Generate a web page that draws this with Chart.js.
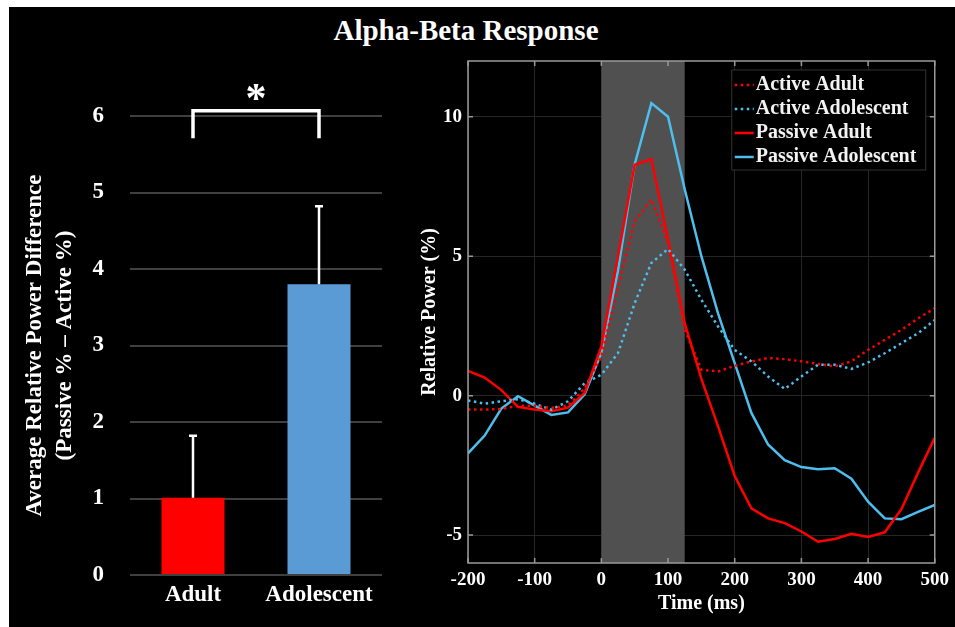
<!DOCTYPE html>
<html>
<head>
<meta charset="UTF-8">
<title>Alpha-Beta Response</title>
<script src="https://cdn.jsdelivr.net/npm/chart.js"></script>
<style>
  body { margin: 0; background: #fff; width: 955px; height: 627px; overflow: hidden; position: relative; }
  #panel { position: absolute; left: 9px; top: 7px; width: 946px; height: 620px; background: #000; }
  #title { position: absolute; left: 0; top: 14px; width: 932px; text-align: center; color: #fff;
           font: bold 29px "Liberation Serif", serif; line-height: 32px; }
  #barCanvas { position: absolute; left: 0; top: 0; }
  #lineCanvas { position: absolute; left: 410px; top: 0; }
</style>
</head>
<body>
<div id="panel"></div>
<div id="title">Alpha-Beta Response</div>
<canvas id="barCanvas" width="410" height="627"></canvas>
<canvas id="lineCanvas" width="545" height="627"></canvas>

<script>
// left panel: group means with one-sided error bars
var groups = ['Adult', 'Adolescent'];
var groupMeans = [1.01, 3.80];
var groupErrors = [0.81, 1.02];
var groupColors = ['#ff0000', '#5b9bd5'];
var barTicks = [0, 1, 2, 3, 4, 5, 6];

// right panel: time course, 25 ms steps
var timeMs = [-200, -175, -150, -125, -100, -75, -50, -25, 0, 25, 50, 75, 100, 125, 150,
              175, 200, 225, 250, 275, 300, 325, 350, 375, 400, 425, 450, 475, 500];
var activeAdult = [-0.5, -0.5, -0.48, -0.36, -0.36, -0.44, -0.36, 0.27, 1.41, 3.9, 6.25, 7.03, 5.47, 2.37, 0.93,
                   0.87, 1.07, 1.23, 1.35, 1.31, 1.23, 1.14, 1.05, 1.23, 1.64, 2.0, 2.36, 2.77, 3.13];
var activeAdolescent = [-0.17, -0.29, -0.2, -0.13, -0.29, -0.5, -0.2, 0.45, 0.75, 1.53, 3.32, 4.76, 5.26, 4.52, 3.44,
                        2.48, 1.64, 1.23, 0.69, 0.24, 0.69, 1.11, 1.11, 0.96, 1.19, 1.52, 1.88, 2.24, 2.71];
var passiveAdult = [0.89, 0.65, 0.2, -0.4, -0.5, -0.56, -0.43, 0.1, 1.77, 5.0, 8.28, 8.48, 5.6, 2.6, 0.6,
                    -1.1, -2.88, -4.04, -4.4, -4.57, -4.87, -5.24, -5.14, -4.95, -5.07, -4.9, -4.07, -2.76, -1.51];
var passiveAdolescent = [-2.07, -1.43, -0.46, -0.02, -0.36, -0.69, -0.6, 0.05, 1.53, 4.5, 8.3, 10.49, 10.0, 7.4, 5.0,
                         2.95, 1.17, -0.62, -1.75, -2.31, -2.56, -2.64, -2.6, -2.98, -3.8, -4.4, -4.43, -4.17, -3.92];
var timeTicks = [-200, -100, 0, 100, 200, 300, 400, 500];
var powerTicks = [-5, 0, 5, 10];
var stimulusWindow = [0, 125];

var RED = '#ff0000';
var CYAN = '#4dbeee';

Chart.defaults.font.family = '"Liberation Serif", "Times New Roman", serif';
Chart.defaults.font.weight = 'bold';
Chart.defaults.color = '#fff';

function pairs(ys) {
    return ys.map(function (y, i) { return { x: timeMs[i], y: y }; });
}

// error bars (upper side only) on top of the bars
var errorBars = {
    id: 'errorBars',
    afterDatasetsDraw: function (chart) {
        var ctx = chart.ctx;
        var yScale = chart.scales.y;
        var meta = chart.getDatasetMeta(0);
        ctx.save();
        ctx.strokeStyle = '#fff';
        ctx.lineWidth = 2.5;
        meta.data.forEach(function (bar, i) {
            var yTop = yScale.getPixelForValue(groupMeans[i] + groupErrors[i]);
            ctx.beginPath();
            ctx.moveTo(bar.x, bar.y);
            ctx.lineTo(bar.x, yTop);
            ctx.moveTo(bar.x - 4, yTop);
            ctx.lineTo(bar.x + 4, yTop);
            ctx.stroke();
        });
        ctx.restore();
    }
};

// significance bracket with asterisk
var bracket = {
    id: 'bracket',
    afterDraw: function (chart) {
        var ctx = chart.ctx;
        var yScale = chart.scales.y;
        var meta = chart.getDatasetMeta(0);
        var x1 = meta.data[0].x, x2 = meta.data[1].x;
        var yTop = yScale.getPixelForValue(6.07);
        var yBot = yScale.getPixelForValue(5.71);
        ctx.save();
        ctx.strokeStyle = '#fff';
        ctx.lineWidth = 3.5;
        ctx.beginPath();
        ctx.moveTo(x1, yBot);
        ctx.lineTo(x1, yTop);
        ctx.lineTo(x2, yTop);
        ctx.lineTo(x2, yBot);
        ctx.stroke();
        ctx.fillStyle = '#fff';
        ctx.font = 'bold 42px "Liberation Serif", serif';
        ctx.textAlign = 'center';
        ctx.textBaseline = 'middle';
        ctx.fillText('*', (x1 + x2) / 2, yScale.getPixelForValue(6.2));
        ctx.restore();
    }
};

new Chart(document.getElementById('barCanvas'), {
    type: 'bar',
    data: {
        labels: groups,
        datasets: [{
            data: groupMeans,
            backgroundColor: groupColors,
            barPercentage: 0.5,
            categoryPercentage: 1
        }]
    },
    options: {
        responsive: false,
        animation: false,
        layout: { padding: { top: 116, right: 28, left: 0, bottom: 0 } },
        plugins: { legend: { display: false }, tooltip: { enabled: false } },
        scales: {
            x: {
                grid: { display: false, drawTicks: false },
                border: { display: false },
                ticks: { color: '#fff', font: { size: 23, weight: 'bold' }, padding: 6 },
                afterFit: function (s) { s.height = 52; }
            },
            y: {
                min: 0,
                max: 6,
                afterBuildTicks: function (s) { s.ticks = barTicks.map(function (v) { return { value: v }; }); },
                ticks: { color: '#fff', font: { size: 23, weight: 'bold' }, padding: 26 },
                grid: { color: '#404040', lineWidth: 2, drawTicks: false },
                border: { display: false },
                title: {
                    display: true,
                    text: ['Average Relative Power Difference', '(Passive % \u2013 Active %)'],
                    color: '#fff',
                    font: { size: 23, weight: 'bold', lineHeight: 1.3 },
                    padding: { top: 20, bottom: 0 }
                },
                afterFit: function (s) { s.width = 130; }
            }
        }
    },
    plugins: [errorBars, bracket]
});

// grey stimulus window behind the traces
var stimulusShade = {
    id: 'stimulusShade',
    beforeDatasetsDraw: function (chart) {
        var a = chart.chartArea;
        var x = chart.scales.x;
        var x0 = x.getPixelForValue(stimulusWindow[0]);
        var x1 = x.getPixelForValue(stimulusWindow[1]);
        chart.ctx.save();
        chart.ctx.fillStyle = '#505050';
        chart.ctx.fillRect(x0, a.top, x1 - x0, a.bottom - a.top);
        chart.ctx.restore();
    }
};

// matlab style box with inward ticks, plus the legend inside the axes
var boxAndLegend = {
    id: 'boxAndLegend',
    afterDatasetsDraw: function (chart) {
        var ctx = chart.ctx;
        var a = chart.chartArea;
        var xs = chart.scales.x, ys = chart.scales.y;
        ctx.save();
        ctx.strokeStyle = '#9a9a9a';
        ctx.lineWidth = 1.5;
        ctx.strokeRect(a.left, a.top, a.right - a.left, a.bottom - a.top);
        ctx.beginPath();
        timeTicks.forEach(function (v) {
            var px = xs.getPixelForValue(v);
            ctx.moveTo(px, a.bottom); ctx.lineTo(px, a.bottom - 5);
            ctx.moveTo(px, a.top); ctx.lineTo(px, a.top + 5);
        });
        powerTicks.forEach(function (v) {
            var py = ys.getPixelForValue(v);
            ctx.moveTo(a.left, py); ctx.lineTo(a.left + 5, py);
            ctx.moveTo(a.right, py); ctx.lineTo(a.right - 5, py);
        });
        ctx.stroke();

        var bw = 194, bh = 100;
        var bx = a.right - 9 - bw, by = a.top + 9;
        ctx.fillStyle = '#000';
        ctx.fillRect(bx, by, bw, bh);
        ctx.strokeStyle = '#333';
        ctx.lineWidth = 1;
        ctx.strokeRect(bx, by, bw, bh);
        ctx.font = 'bold 20px "Liberation Serif", serif';
        ctx.textBaseline = 'middle';
        ctx.textAlign = 'left';
        chart.data.datasets.forEach(function (ds, i) {
            var cy = by + 15 + i * 24;
            ctx.strokeStyle = ds.borderColor;
            ctx.lineWidth = ds.borderWidth;
            ctx.setLineDash(ds.borderDash || []);
            ctx.beginPath();
            ctx.moveTo(bx + 3, cy);
            ctx.lineTo(bx + 22, cy);
            ctx.stroke();
            ctx.setLineDash([]);
            ctx.fillStyle = '#f2f2f2';
            ctx.fillText(ds.label, bx + 24, cy);
        });
        ctx.restore();
    }
};

function trace(label, ys, color, dotted) {
    return {
        label: label,
        data: pairs(ys),
        borderColor: color,
        borderWidth: 2.5,
        borderDash: dotted ? [2.5, 3.5] : [],
        pointRadius: 0,
        tension: 0,
        fill: false
    };
}

new Chart(document.getElementById('lineCanvas'), {
    type: 'line',
    data: {
        datasets: [
            trace('Active Adult', activeAdult, RED, true),
            trace('Active Adolescent', activeAdolescent, CYAN, true),
            trace('Passive Adult', passiveAdult, RED, false),
            trace('Passive Adolescent', passiveAdolescent, CYAN, false)
        ]
    },
    options: {
        responsive: false,
        animation: false,
        layout: { padding: { top: 61, right: 19, left: 0, bottom: 0 } },
        plugins: { legend: { display: false }, tooltip: { enabled: false } },
        scales: {
            x: {
                type: 'linear',
                min: -200,
                max: 500,
                afterBuildTicks: function (s) { s.ticks = timeTicks.map(function (v) { return { value: v }; }); },
                ticks: { color: '#fff', font: { size: 19, weight: 'bold' }, padding: 6 },
                grid: { color: '#262626', drawTicks: false },
                border: { display: false },
                title: {
                    display: true, text: 'Time (ms)', color: '#fff',
                    font: { size: 20, weight: 'bold' }, padding: { top: 0, bottom: 11 }
                },
                afterFit: function (s) { s.height = 64; }
            },
            y: {
                min: -6,
                max: 12,
                afterBuildTicks: function (s) { s.ticks = powerTicks.map(function (v) { return { value: v }; }); },
                ticks: { color: '#fff', font: { size: 19, weight: 'bold' }, padding: 6 },
                grid: { color: '#262626', drawTicks: false },
                border: { display: false },
                title: {
                    display: true, text: 'Relative Power (%)', color: '#fff',
                    font: { size: 20, weight: 'bold' }, padding: { top: 8, bottom: 0 }
                },
                afterFit: function (s) { s.width = 58; }
            }
        }
    },
    plugins: [stimulusShade, boxAndLegend]
});
</script>
</body>
</html>
